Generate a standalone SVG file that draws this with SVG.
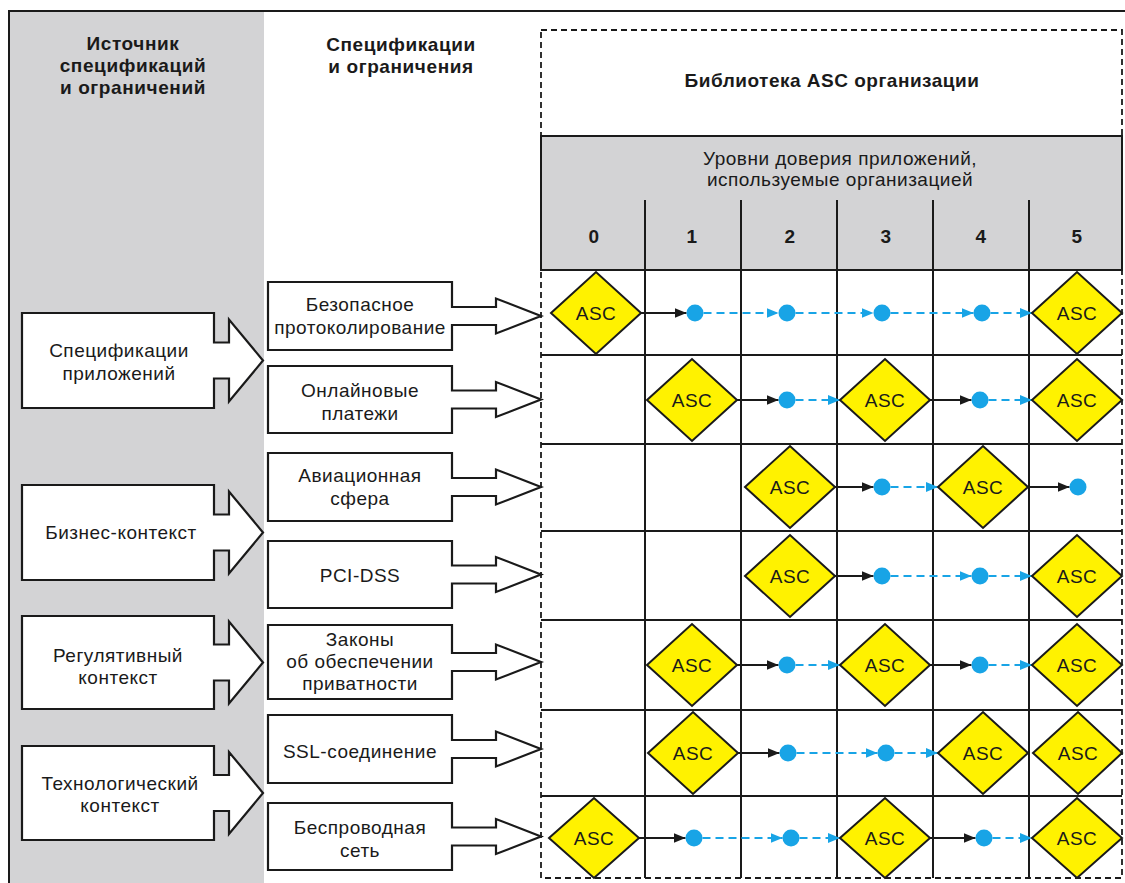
<svg xmlns="http://www.w3.org/2000/svg" width="1125" height="883" viewBox="0 0 1125 883">
<defs>
<style>
.t{font-family:"Liberation Sans",Arial,sans-serif;font-size:19px;letter-spacing:0.5px;fill:#1a1a1a;text-anchor:middle}
.b{font-weight:bold;font-size:19px;letter-spacing:0.6px}
.n{font-weight:bold;font-size:19px;letter-spacing:0.5px}
.box{fill:#fff;stroke:#1a1a1a;stroke-width:2.2;stroke-linejoin:miter}
.dia{fill:#fff200;stroke:#1a1a1a;stroke-width:2}
.dot{fill:#18a4e6}
.grid{stroke:#1a1a1a;stroke-width:2;fill:none}
.blk{stroke:#1a1a1a;stroke-width:2;fill:none}
.blu{stroke:#18a4e6;stroke-width:2.2;fill:none;stroke-dasharray:8 5}
</style>
<marker id="ab" viewBox="0 0 12 10" refX="12" refY="5" markerWidth="12" markerHeight="10" markerUnits="userSpaceOnUse" orient="auto"><path d="M0,0 L12,5 L0,10 Z" fill="#1a1a1a"/></marker>
<marker id="au" viewBox="0 0 12 10" refX="12" refY="5" markerWidth="12" markerHeight="10" markerUnits="userSpaceOnUse" orient="auto"><path d="M0,0 L12,5 L0,10 Z" fill="#18a4e6"/></marker>
</defs>
<rect width="1125" height="883" fill="#fff"/>
<!-- background panels -->
<rect x="9" y="11" width="255" height="872" fill="#d3d3d5"/>
<path d="M9,883 V11 H1125" class="grid"/>
<!-- library frame -->
<g id="library">
<rect x="541" y="136" width="581" height="134" fill="#d3d3d5" stroke="#1a1a1a" stroke-width="2"/>
<rect x="541" y="30" width="581" height="848" fill="none" stroke="#1a1a1a" stroke-width="1.8" stroke-dasharray="6 4"/>
<text class="t n" x="832" y="87">Библиотека ASC организации</text>
<text class="t" x="840" y="165">Уровни доверия приложений,</text>
<text class="t" x="840" y="186">используемые организацией</text>
<text class="t n" x="594" y="243">0</text>
<text class="t n" x="692" y="243">1</text>
<text class="t n" x="790" y="243">2</text>
<text class="t n" x="886" y="243">3</text>
<text class="t n" x="981" y="243">4</text>
<text class="t n" x="1077" y="243">5</text>
<path class="grid" d="M645,200 V878 M741,200 V878 M837,200 V878 M933,200 V878 M1029,200 V878"/>
<path class="grid" d="M541,270 H1122 M541,355 H1122 M541,444 H1122 M541,531 H1122 M541,620 H1122 M541,710 H1122 M541,796 H1122"/>
</g>
<!-- column headers -->
<text class="t b" x="133" y="50">Источник</text>
<text class="t b" x="133" y="72">спецификаций</text>
<text class="t b" x="133" y="94">и ограничений</text>
<text class="t b" x="401" y="51">Спецификации</text>
<text class="t b" x="401" y="73">и ограничения</text>
<!-- source nodes -->
<g id="src-app">
<path class="box" d="M22,313 H214 V342.5 H229 V319.5 L263,360.5 L229,401.5 V378.5 H214 V408 H22 Z"/>
<text class="t" x="119" y="357">Спецификации</text>
<text class="t" x="119" y="380">приложений</text>
</g>
<g id="src-business">
<path class="box" d="M22,485 H214 V514.5 H229 V491.5 L263,532.5 L229,573.5 V550.5 H214 V580 H22 Z"/>
<text class="t" x="121" y="539">Бизнес-контекст</text>
</g>
<g id="src-reg">
<path class="box" d="M22,616 H214 V644.5 H229 V621.5 L263,662.5 L229,703.5 V680.5 H214 V709 H22 Z"/>
<text class="t" x="118" y="662">Регулятивный</text>
<text class="t" x="118" y="684">контекст</text>
</g>
<g id="src-tech">
<path class="box" d="M22,746 H214 V775 H229 V752 L263,793 L229,834 V811 H214 V840 H22 Z"/>
<text class="t" x="120" y="790">Технологический</text>
<text class="t" x="120" y="812">контекст</text>
</g>
<!-- specification nodes -->
<g id="spec-log">
<path class="box" d="M268,282 H452 V307 H496 V298.5 L541,316 L496,333.5 V325 H452 V350 H268 Z"/>
<text class="t" x="360" y="311">Безопасное</text>
<text class="t" x="360" y="334">протоколирование</text>
</g>
<g id="spec-pay">
<path class="box" d="M268,366 H452 V390.5 H496 V382 L541,399.5 L496,417 V408.5 H452 V433 H268 Z"/>
<text class="t" x="360" y="397">Онлайновые</text>
<text class="t" x="360" y="420">платежи</text>
</g>
<g id="spec-avia">
<path class="box" d="M268,453 H452 V478 H496 V469.5 L541,487 L496,504.5 V496 H452 V521 H268 Z"/>
<text class="t" x="360" y="482">Авиационная</text>
<text class="t" x="360" y="505">сфера</text>
</g>
<g id="spec-pci">
<path class="box" d="M268,541 H452 V565.5 H496 V557 L541,574.5 L496,592 V583.5 H452 V608 H268 Z"/>
<text class="t" x="360" y="582">PCI-DSS</text>
</g>
<g id="spec-privacy">
<path class="box" d="M268,625 H452 V653 H496 V644.5 L541,662 L496,679.5 V671 H452 V699 H268 Z"/>
<text class="t" x="360" y="646">Законы</text>
<text class="t" x="360" y="668">об обеспечении</text>
<text class="t" x="360" y="690">приватности</text>
</g>
<g id="spec-ssl">
<path class="box" d="M268,715 H452 V740 H496 V731.5 L541,749 L496,766.5 V758 H452 V783 H268 Z"/>
<text class="t" x="360" y="758">SSL-соединение</text>
</g>
<g id="spec-wifi">
<path class="box" d="M268,803 H452 V827.5 H496 V819 L541,836.5 L496,854 V845.5 H452 V870 H268 Z"/>
<text class="t" x="360" y="834">Беспроводная</text>
<text class="t" x="360" y="857">сеть</text>
</g>
<!-- connectors -->
<g id="connectors">
<!-- row 1 -->
<line class="blk" x1="641" y1="313" x2="686.5" y2="313" marker-end="url(#ab)"/>
<line class="blu" x1="703.5" y1="313" x2="778.5" y2="313" marker-end="url(#au)"/>
<line class="blu" x1="795.5" y1="313" x2="873.5" y2="313" marker-end="url(#au)"/>
<line class="blu" x1="890.5" y1="313" x2="973.5" y2="313" marker-end="url(#au)"/>
<line class="blu" x1="990.5" y1="313" x2="1032" y2="313" marker-end="url(#au)"/>
<!-- row 2 -->
<line class="blk" x1="737" y1="400" x2="778.5" y2="400" marker-end="url(#ab)"/>
<line class="blu" x1="795.5" y1="400" x2="840" y2="400" marker-end="url(#au)"/>
<line class="blk" x1="930" y1="400" x2="971.5" y2="400" marker-end="url(#ab)"/>
<line class="blu" x1="988.5" y1="400" x2="1032" y2="400" marker-end="url(#au)"/>
<!-- row 3 -->
<line class="blk" x1="835" y1="487" x2="873.5" y2="487" marker-end="url(#ab)"/>
<line class="blu" x1="890.5" y1="487" x2="938" y2="487" marker-end="url(#au)"/>
<line class="blk" x1="1028" y1="487" x2="1069.5" y2="487" marker-end="url(#ab)"/>
<!-- row 4 -->
<line class="blk" x1="835" y1="576" x2="873.5" y2="576" marker-end="url(#ab)"/>
<line class="blu" x1="890.5" y1="576" x2="971.5" y2="576" marker-end="url(#au)"/>
<line class="blu" x1="988.5" y1="576" x2="1032" y2="576" marker-end="url(#au)"/>
<!-- row 5 -->
<line class="blk" x1="737" y1="665" x2="778.5" y2="665" marker-end="url(#ab)"/>
<line class="blu" x1="795.5" y1="665" x2="840" y2="665" marker-end="url(#au)"/>
<line class="blk" x1="930" y1="665" x2="971.5" y2="665" marker-end="url(#ab)"/>
<line class="blu" x1="988.5" y1="665" x2="1032" y2="665" marker-end="url(#au)"/>
<!-- row 6 -->
<line class="blk" x1="738" y1="753" x2="779.5" y2="753" marker-end="url(#ab)"/>
<line class="blu" x1="796.5" y1="753" x2="877.5" y2="753" marker-end="url(#au)"/>
<line class="blu" x1="894.5" y1="753" x2="938" y2="753" marker-end="url(#au)"/>
<!-- row 7 -->
<line class="blk" x1="639" y1="838" x2="685.5" y2="838" marker-end="url(#ab)"/>
<line class="blu" x1="702.5" y1="838" x2="782.5" y2="838" marker-end="url(#au)"/>
<line class="blu" x1="799.5" y1="838" x2="840" y2="838" marker-end="url(#au)"/>
<line class="blk" x1="930" y1="838" x2="975.5" y2="838" marker-end="url(#ab)"/>
<line class="blu" x1="992.5" y1="838" x2="1032" y2="838" marker-end="url(#au)"/>
</g>
<!-- row 1 nodes -->
<g id="r1-asc0"><path class="dia" d="M551,313 L596,272 L641,313 L596,354 Z"/><text class="t" x="596" y="320">ASC</text></g>
<g id="r1-d1"><circle class="dot" cx="695" cy="313" r="8.5"/></g>
<g id="r1-d2"><circle class="dot" cx="787" cy="313" r="8.5"/></g>
<g id="r1-d3"><circle class="dot" cx="882" cy="313" r="8.5"/></g>
<g id="r1-d4"><circle class="dot" cx="982" cy="313" r="8.5"/></g>
<g id="r1-asc5"><path class="dia" d="M1032,313 L1077,272 L1122,313 L1077,354 Z"/><text class="t" x="1077" y="320">ASC</text></g>
<!-- row 2 nodes -->
<g id="r2-asc1"><path class="dia" d="M647,400 L692,359 L737,400 L692,441 Z"/><text class="t" x="692" y="407">ASC</text></g>
<g id="r2-d2"><circle class="dot" cx="787" cy="400" r="8.5"/></g>
<g id="r2-asc3"><path class="dia" d="M840,400 L885,359 L930,400 L885,441 Z"/><text class="t" x="885" y="407">ASC</text></g>
<g id="r2-d4"><circle class="dot" cx="980" cy="400" r="8.5"/></g>
<g id="r2-asc5"><path class="dia" d="M1032,400 L1077,359 L1122,400 L1077,441 Z"/><text class="t" x="1077" y="407">ASC</text></g>
<!-- row 3 nodes -->
<g id="r3-asc2"><path class="dia" d="M745,487 L790,446 L835,487 L790,528 Z"/><text class="t" x="790" y="494">ASC</text></g>
<g id="r3-d3"><circle class="dot" cx="882" cy="487" r="8.5"/></g>
<g id="r3-asc4"><path class="dia" d="M938,487 L983,446 L1028,487 L983,528 Z"/><text class="t" x="983" y="494">ASC</text></g>
<g id="r3-d5"><circle class="dot" cx="1078" cy="487" r="8.5"/></g>
<!-- row 4 nodes -->
<g id="r4-asc2"><path class="dia" d="M745,576 L790,535 L835,576 L790,617 Z"/><text class="t" x="790" y="583">ASC</text></g>
<g id="r4-d3"><circle class="dot" cx="882" cy="576" r="8.5"/></g>
<g id="r4-d4"><circle class="dot" cx="980" cy="576" r="8.5"/></g>
<g id="r4-asc5"><path class="dia" d="M1032,576 L1077,535 L1122,576 L1077,617 Z"/><text class="t" x="1077" y="583">ASC</text></g>
<!-- row 5 nodes -->
<g id="r5-asc1"><path class="dia" d="M647,665 L692,624 L737,665 L692,706 Z"/><text class="t" x="692" y="672">ASC</text></g>
<g id="r5-d2"><circle class="dot" cx="787" cy="665" r="8.5"/></g>
<g id="r5-asc3"><path class="dia" d="M840,665 L885,624 L930,665 L885,706 Z"/><text class="t" x="885" y="672">ASC</text></g>
<g id="r5-d4"><circle class="dot" cx="980" cy="665" r="8.5"/></g>
<g id="r5-asc5"><path class="dia" d="M1032,665 L1077,624 L1122,665 L1077,706 Z"/><text class="t" x="1077" y="672">ASC</text></g>
<!-- row 6 nodes -->
<g id="r6-asc1"><path class="dia" d="M648,753 L693,712 L738,753 L693,794 Z"/><text class="t" x="693" y="760">ASC</text></g>
<g id="r6-d2"><circle class="dot" cx="788" cy="753" r="8.5"/></g>
<g id="r6-d3"><circle class="dot" cx="886" cy="753" r="8.5"/></g>
<g id="r6-asc4"><path class="dia" d="M938,753 L983,712 L1028,753 L983,794 Z"/><text class="t" x="983" y="760">ASC</text></g>
<g id="r6-asc5"><path class="dia" d="M1033,753 L1078,712 L1122,753 L1078,794 Z"/><text class="t" x="1078" y="760">ASC</text></g>
<!-- row 7 nodes -->
<g id="r7-asc0"><path class="dia" d="M549,838 L594,798 L639,838 L594,878 Z"/><text class="t" x="594" y="845">ASC</text></g>
<g id="r7-d1"><circle class="dot" cx="694" cy="838" r="8.5"/></g>
<g id="r7-d2"><circle class="dot" cx="791" cy="838" r="8.5"/></g>
<g id="r7-asc3"><path class="dia" d="M840,838 L885,798 L930,838 L885,878 Z"/><text class="t" x="885" y="845">ASC</text></g>
<g id="r7-d4"><circle class="dot" cx="984" cy="838" r="8.5"/></g>
<g id="r7-asc5"><path class="dia" d="M1032,838 L1077,798 L1122,838 L1077,878 Z"/><text class="t" x="1077" y="845">ASC</text></g>
</svg>
